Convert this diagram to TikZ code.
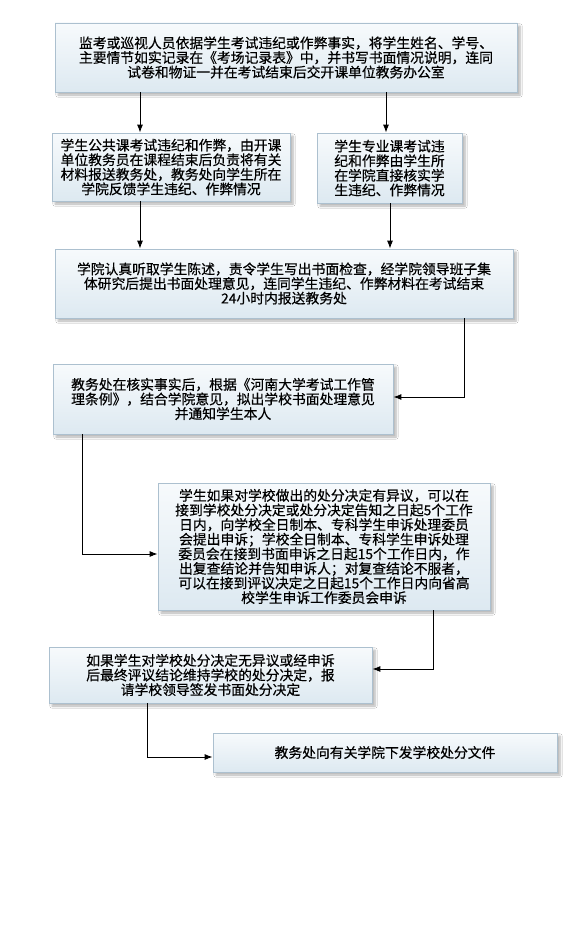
\documentclass[tikz,border=0pt]{standalone}
\usepackage{fontspec}
\setmainfont{Noto Sans CJK SC}[FakeBold=0.5]
\usetikzlibrary{arrows.meta,shadows.blur,calc}
\definecolor{boxtop}{RGB}{247,250,252}
\definecolor{boxbot}{RGB}{221,233,241}
\definecolor{boxline}{RGB}{172,192,207}
\tikzset{
  box/.style={draw=boxline, line width=0.8pt, top color=boxtop, bottom color=boxbot,
    align=center, inner sep=2pt, text=black,
    font=\fontsize{13.8}{14.6}\selectfont,
    blur shadow={shadow xshift=3pt, shadow yshift=-3pt, shadow opacity=30, shadow blur steps=6}},
  arr/.style={line width=0.9pt, draw=black, -{Latex[length=8pt,width=6pt]}},
}
\begin{document}
\begin{tikzpicture}[x=1pt,y=-1pt]
\useasboundingbox (0,0) rectangle (570,950);
\fill[white] (0,0) rectangle (570,950);

\node[box, minimum width=462pt, minimum height=69pt] (b1) at (286,57.5)
 {监考或巡视人员依据学生考试违纪或作弊事实，将学生姓名、学号、\\主要情节如实记录在《考场记录表》中，并书写书面情况说明，连同\\试卷和物证一并在考试结束后交开课单位教务办公室};
\node[box, minimum width=238pt, minimum height=68pt] (b2) at (171,167)
 {学生公共课考试违纪和作弊，由开课\\单位教务员在课程结束后负责将有关\\材料报送教务处，教务处向学生所在\\学院反馈学生违纪、作弊情况};
\node[box, minimum width=145pt, minimum height=70pt] (b3) at (389.5,168)
 {学生专业课考试违\\纪和作弊由学生所\\在学院直接核实学\\生违纪、作弊情况};
\node[box, minimum width=458pt, minimum height=69pt] (b4) at (284,283.5)
 {学院认真听取学生陈述，责令学生写出书面检查，经学院领导班子集\\体研究后提出书面处理意见，连同学生违纪、作弊材料在考试结束\\24小时内报送教务处};
\node[box, minimum width=340pt, minimum height=70pt] (b5) at (223,399)
 {教务处在核实事实后，根据《河南大学考试工作管\\理条例》，结合学院意见，拟出学校书面处理意见\\并通知学生本人};
\node[box, minimum width=332pt, minimum height=127pt] (b6) at (324,546.5)
 {学生如果对学校做出的处分决定有异议，可以在\\接到学校处分决定或处分决定告知之日起5个工作\\日内，向学校全日制本、专科学生申诉处理委员\\会提出申诉；学校全日制本、专科学生申诉处理\\委员会在接到书面申诉之日起15个工作日内，作\\出复查结论并告知申诉人；对复查结论不服者，\\可以在接到评议决定之日起15个工作日内向省高\\校学生申诉工作委员会申诉};
\node[box, minimum width=323pt, minimum height=56pt] (b7) at (210.5,675)
 {如果学生对学校处分决定无异议或经申诉\\后最终评议结论维持学校的处分决定，报\\请学校领导签发书面处分决定};
\node[box, minimum width=344pt, minimum height=39pt] (b8) at (385,752.5)
 {教务处向有关学院下发学校处分文件};

\coordinate (xa) at (140,0);
\coordinate (xb) at (386,0);
\coordinate (xc) at (390,0);
\coordinate (xd) at (464,0);
\coordinate (xe) at (82,0);
\coordinate (xf) at (433,0);
\coordinate (xg) at (147,0);
\coordinate (ya) at (0,397);
\coordinate (yb) at (0,554);
\coordinate (yc) at (0,669);
\coordinate (yd) at (0,757);

\draw[arr] (b1.south -| xa) -- (b2.north -| xa);
\draw[arr] (b1.south -| xb) -- (b3.north -| xb);
\draw[arr] (b2.south -| xa) -- (b4.north -| xa);
\draw[arr] (b3.south -| xc) -- (b4.north -| xc);
\draw[arr] (b4.south -| xd) |- (b5.east |- ya);
\draw[arr] (b5.south -| xe) |- (b6.west |- yb);
\draw[arr] (b6.south -| xf) |- (b7.east |- yc);
\draw[arr] (b7.south -| xg) |- (b8.west |- yd);
\end{tikzpicture}
\end{document}
